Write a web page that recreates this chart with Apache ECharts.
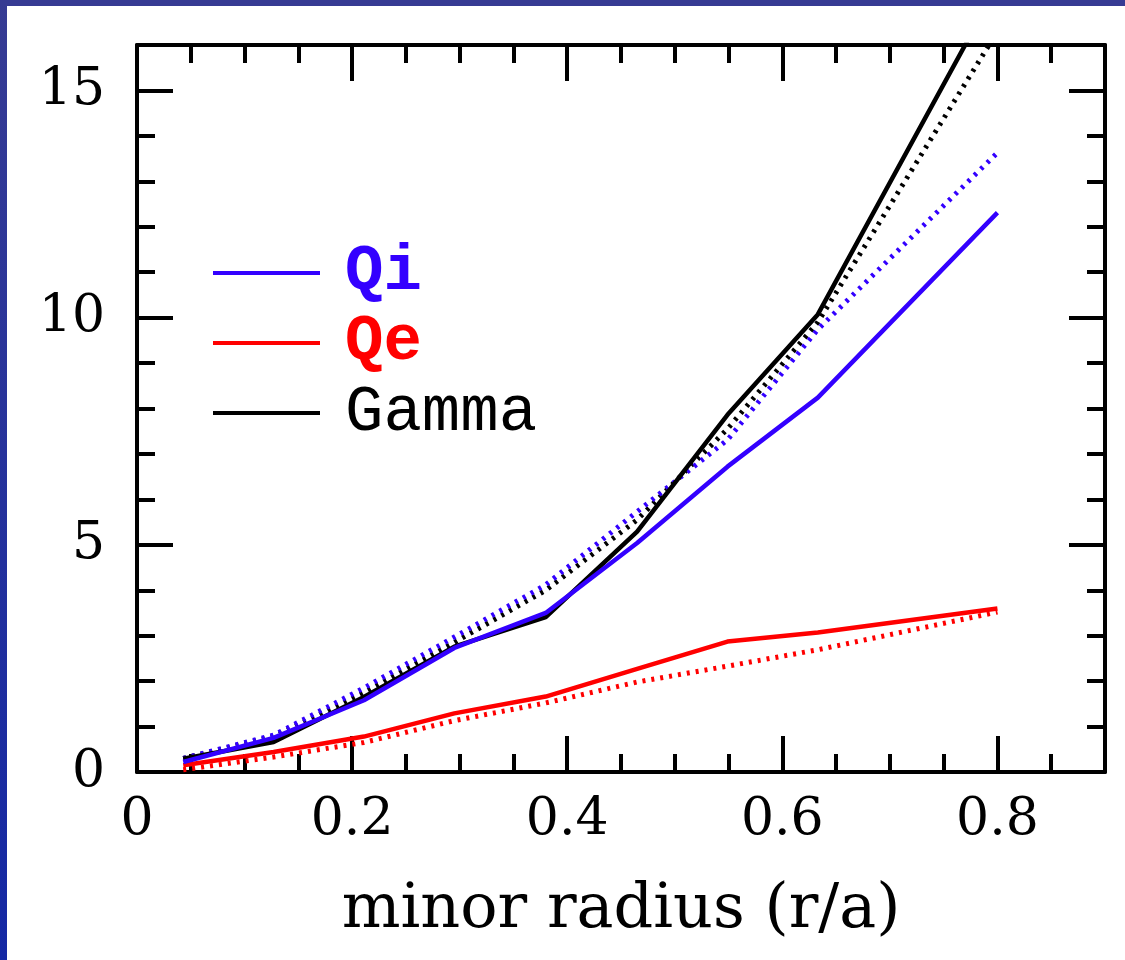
<!DOCTYPE html>
<html>
<head>
<meta charset="utf-8">
<script src="https://cdn.jsdelivr.net/npm/echarts@6/dist/echarts.min.js"></script>
<style>
  html, body { margin: 0; padding: 0; background: #fff; }
  #wrap { position: relative; width: 1125px; height: 960px; overflow: hidden; background: #fff; }
  #topbar { position: absolute; left: 0; top: 0; width: 1125px; height: 6px; background: #363b93; }
  #leftbar { position: absolute; left: 0; top: 0; width: 7px; height: 960px; background: linear-gradient(to bottom, #363b93, #1428a4); }
  #chart { position: absolute; left: 0; top: 0; width: 1125px; height: 960px; }
</style>
</head>
<body>
<div id="wrap">
  <div id="topbar"></div>
  <div id="leftbar"></div>
  <div id="chart"></div>
</div>
<script>
// minor radius points
const radius = [0.043, 0.127, 0.211, 0.295, 0.38, 0.465, 0.549, 0.633, 0.8];

// solid curves
const qi = [0.22, 0.75, 1.58, 2.73, 3.5, 5.04, 6.72, 8.24, 12.31];
const qe = [0.15, 0.44, 0.78, 1.29, 1.66, 2.27, 2.87, 3.07, 3.6];
const gamma = [0.29, 0.66, 1.65, 2.76, 3.41, 5.29, 7.86, 10.07, 17.3];

// dotted curves
const qiDot = [0.3, 0.81, 1.85, 2.97, 4.12, 5.73, 7.31, 9.74, 13.63];
const qeDot = [0.05, 0.33, 0.65, 1.13, 1.52, 1.98, 2.33, 2.69, 3.52];
const gammaDot = [0.3, 0.78, 1.75, 2.85, 4.0, 5.55, 7.55, 9.9, 16.3];

const legendNames = ['Qi', 'Qe', 'Gamma'];

const BLUE = '#3300ff';
const RED = '#ff0000';
const BLACK = '#000000';

const serif = 'DejaVu Serif';
const mono = 'Liberation Mono';

function pairs(ys) {
  return radius.map((r, i) => [r, ys[i]]);
}

function xAxisDef(position, major) {
  return {
    type: 'value',
    position: position,
    min: 0,
    max: 0.9,
    interval: major ? 0.2 : 0.05,
    axisLine: { show: major, onZero: false, lineStyle: { color: BLACK, width: 4 } },
    axisTick: { show: true, inside: true, length: major ? 36 : 18, lineStyle: { color: BLACK, width: 4 } },
    axisLabel: { show: false },
    splitLine: { show: false }
  };
}

function yAxisDef(position, major) {
  return {
    type: 'value',
    position: position,
    min: 0,
    max: 16,
    interval: major ? 5 : 1,
    axisLine: { show: major, onZero: false, lineStyle: { color: BLACK, width: 4 } },
    axisTick: { show: true, inside: true, length: major ? 36 : 18, lineStyle: { color: BLACK, width: 4 } },
    axisLabel: { show: false },
    splitLine: { show: false }
  };
}

const xMain = xAxisDef('bottom', true);
xMain.name = 'minor radius (r/a)';
xMain.nameLocation = 'middle';
xMain.nameGap = 108;
xMain.nameTextStyle = { fontFamily: serif, fontSize: 62, color: BLACK };
xMain.axisLabel = {
  show: true,
  margin: 22,
  fontFamily: serif,
  fontSize: 52,
  color: BLACK,
  formatter: v => (v > 0.85 ? '' : String(+v.toFixed(1)))
};

const yMain = yAxisDef('left', true);
yMain.axisLabel = {
  show: true,
  margin: 32,
  fontFamily: serif,
  fontSize: 52,
  color: BLACK,
  formatter: v => (v % 5 === 0 ? String(v) : '')
};

function line(name, ys, color, dotted) {
  return {
    name: name,
    type: 'line',
    xAxisIndex: 0,
    yAxisIndex: 0,
    data: pairs(ys),
    symbol: 'none',
    showSymbol: false,
    color: color,
    lineStyle: { color: color, width: dotted ? 5 : 4.5, type: dotted ? [3, 6] : 'solid' },
    z: dotted ? 2 : 3
  };
}

const chart = echarts.init(document.getElementById('chart'), null, { renderer: 'canvas' });

chart.setOption({
  animation: false,
  backgroundColor: 'transparent',
  grid: { left: 137, right: 20, top: 45, bottom: 188 },
  legend: {
    orient: 'vertical',
    left: 208,
    top: 236,
    icon: 'rect',
    itemWidth: 107,
    itemHeight: 4,
    itemGap: 6,
    selectedMode: false,
    textStyle: { fontFamily: mono, fontSize: 64, lineHeight: 40, padding: [0, 0, 0, 20] },
    data: [
      { name: legendNames[0], textStyle: { color: BLUE, fontWeight: 'bold' } },
      { name: legendNames[1], textStyle: { color: RED, fontWeight: 'bold' } },
      { name: legendNames[2], textStyle: { color: BLACK } }
    ]
  },
  xAxis: [xMain, xAxisDef('bottom', false), xAxisDef('top', true), xAxisDef('top', false)],
  yAxis: [yMain, yAxisDef('left', false), yAxisDef('right', true), yAxisDef('right', false)],
  series: [
    line('Gamma model', gammaDot, BLACK, true),
    line('Qi model', qiDot, BLUE, true),
    line('Qe model', qeDot, RED, true),
    line('Gamma', gamma, BLACK, false),
    line('Qe', qe, RED, false),
    line('Qi', qi, BLUE, false)
  ]
});
</script>
</body>
</html>
